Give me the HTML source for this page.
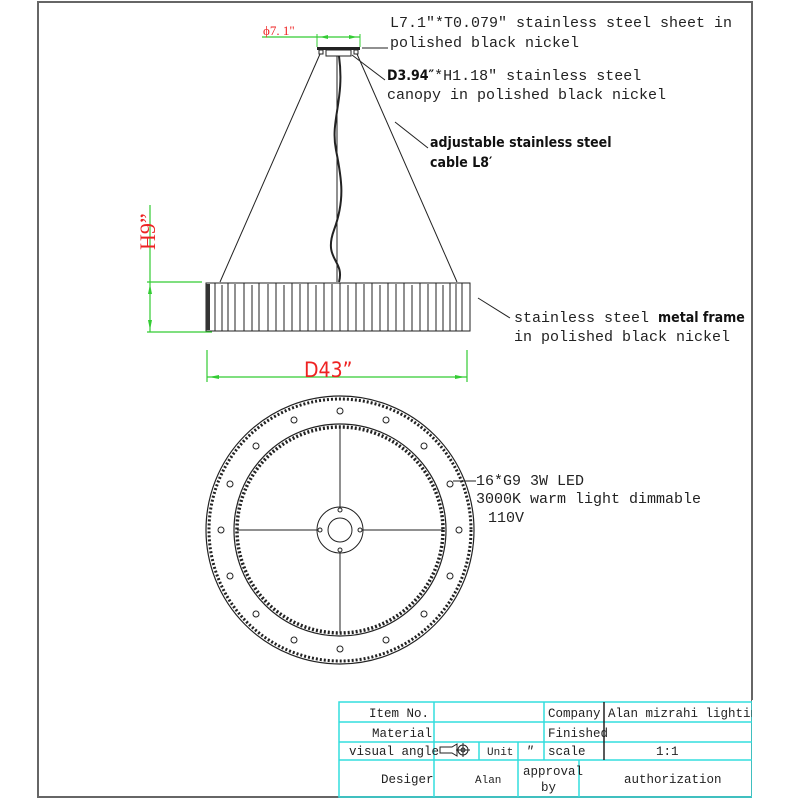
<!DOCTYPE html>
<html><head><meta charset="utf-8"><style>
body{margin:0;background:#fff}
svg{display:block}
.s{font-family:"Liberation Mono","Liberation Serif",monospace;font-size:15px;fill:#222}
.b{font-family:"DejaVu Sans Condensed","Liberation Sans",sans-serif;font-weight:bold;font-size:14px;fill:#111}
.t{font-family:"Liberation Mono",monospace;font-size:12.5px;fill:#222}
</style></head><body>
<svg width="800" height="800" viewBox="0 0 800 800" xmlns="http://www.w3.org/2000/svg">
<rect x="38" y="2" width="714" height="795" fill="none" stroke="#666" stroke-width="2"/>

<!-- canopy -->
<line x1="262" y1="37" x2="360" y2="37" stroke="#3c3" stroke-width="1.2"/>
<line x1="317" y1="34" x2="317" y2="47" stroke="#3c3"/>
<line x1="360" y1="34" x2="360" y2="47" stroke="#3c3"/>
<path d="M320 37 l8 -2 v4z M357 37 l-8 -2 v4z" fill="#3c3"/>
<text x="263" y="35" font-family="Liberation Serif,serif" font-size="13" fill="#e22">ϕ7. 1"</text>
<rect x="317" y="47" width="43" height="3" fill="#222"/>
<rect x="326" y="50" width="25" height="6" fill="none" stroke="#222"/>
<rect x="319" y="50" width="4" height="4" fill="none" stroke="#222"/>
<rect x="354" y="50" width="4" height="4" fill="none" stroke="#222"/>
<line x1="362" y1="48" x2="388" y2="48" stroke="#222"/>
<line x1="352" y1="55" x2="385" y2="80" stroke="#222"/>
<!-- cables -->
<line x1="320" y1="54" x2="220" y2="282" stroke="#222"/>
<line x1="357" y1="54" x2="457" y2="282" stroke="#222"/>
<line x1="337" y1="56" x2="337" y2="282" stroke="#222"/>
<path d="M339 56 C345 100,330 120,336 150 S345 200,334 230 S345 260,339 282" fill="none" stroke="#222" stroke-width="2"/>
<line x1="395" y1="122" x2="428" y2="148" stroke="#222"/>

<!-- ring side -->
<rect x="206" y="283" width="264" height="48" stroke="#222" fill="#fff"/>
<g stroke="#222" stroke-width="1">
<path d="M215 283v48M222 285v46M228 283v48M235 284v47M244 283v48M252 285v46M259 283v48M268 284v47M276 283v48M284 285v46M292 283v48M300 284v47M308 283v48M316 285v46M324 283v48M332 284v47M340 283v48M348 285v46M356 283v48M364 284v47M372 283v48M380 285v46M388 283v48M396 284v47M404 283v48M412 285v46M420 283v48M428 284v47M436 283v48M443 285v46M450 283v48M456 284v47M462 283v48"/>
</g>
<rect x="206" y="284" width="4" height="46" fill="#333"/>
<line x1="478" y1="298" x2="510" y2="318" stroke="#222"/>

<!-- dims -->
<g stroke="#3c3" stroke-width="1.2">
<line x1="150" y1="205" x2="150" y2="332"/>
<line x1="147" y1="282" x2="202" y2="282"/>
<line x1="147" y1="332" x2="212" y2="332"/>
<line x1="207" y1="350" x2="207" y2="382"/>
<line x1="467" y1="350" x2="467" y2="382"/>
<line x1="207" y1="377" x2="467" y2="377"/>
</g>
<path d="M150 284 l-2 10 h4z M150 330 l-2 -10 h4z M209 377 l10 -2 v4z M465 377 l-10 -2 v4z" fill="#3c3"/>
<text transform="translate(155,250) rotate(-90)" font-family="Liberation Serif,serif" font-size="22" fill="#e22">H9”</text>
<text x="304" y="377" font-family="DejaVu Sans Condensed,Liberation Sans,sans-serif" font-size="21" fill="#e22">D43”</text>

<!-- bottom view -->
<g fill="none" stroke="#222">
<circle cx="340" cy="530" r="134" stroke-width="1.2"/>
<circle cx="340" cy="530" r="131" stroke-width="3" stroke-dasharray="2 2"/>
<circle cx="340" cy="530" r="106" stroke-width="1.2"/>
<circle cx="340" cy="530" r="103" stroke-width="3.5" stroke-dasharray="2 2"/>
<circle cx="340" cy="530" r="23"/>
<circle cx="340" cy="530" r="12"/>
<line x1="340" y1="427" x2="340" y2="507"/>
<line x1="340" y1="553" x2="340" y2="633"/>
<line x1="237" y1="530" x2="317" y2="530"/>
<line x1="363" y1="530" x2="443" y2="530"/>
<circle cx="340" cy="510" r="2"/><circle cx="340" cy="550" r="2"/><circle cx="320" cy="530" r="2"/><circle cx="360" cy="530" r="2"/>
</g>
<g fill="none" stroke="#222" stroke-width="1">
<circle cx="340" cy="411" r="3"/><circle cx="386" cy="420" r="3"/><circle cx="424" cy="446" r="3"/><circle cx="450" cy="484" r="3"/>
<circle cx="459" cy="530" r="3"/><circle cx="450" cy="576" r="3"/><circle cx="424" cy="614" r="3"/><circle cx="386" cy="640" r="3"/>
<circle cx="340" cy="649" r="3"/><circle cx="294" cy="640" r="3"/><circle cx="256" cy="614" r="3"/><circle cx="230" cy="576" r="3"/>
<circle cx="221" cy="530" r="3"/><circle cx="230" cy="484" r="3"/><circle cx="256" cy="446" r="3"/><circle cx="294" cy="420" r="3"/>
</g>
<line x1="453" y1="481" x2="476" y2="481" stroke="#222"/>

<!-- labels -->
<text class="s" x="390" y="27">L7.1″*T0.079″ stainless steel sheet  in</text>
<text class="s" x="390" y="47">polished black nickel</text>
<text x="387" y="80"><tspan class="b">D3.94″</tspan><tspan class="s">*H1.18″ stainless steel</tspan></text>
<text class="s" x="387" y="99">canopy in polished black nickel</text>
<text class="b" x="430" y="147">adjustable stainless steel</text>
<text class="b" x="430" y="167">cable L8′</text>
<text x="514" y="322"><tspan class="s">stainless steel </tspan><tspan class="b">metal frame</tspan></text>
<text class="s" x="514" y="341">in polished black nickel</text>
<text class="s" x="476" y="485">16*G9 3W LED</text>
<text class="s" x="476" y="503">3000K warm light  dimmable</text>
<text class="s" x="488" y="522">110V</text>

<!-- table -->
<g stroke="#3dd" stroke-width="1.5" fill="none">
<rect x="339" y="702" width="413" height="95"/>
<line x1="339" y1="722" x2="752" y2="722"/>
<line x1="339" y1="742" x2="752" y2="742"/>
<line x1="339" y1="760" x2="752" y2="760"/>
<line x1="434" y1="702" x2="434" y2="797"/>
<line x1="544" y1="702" x2="544" y2="760"/>
<line x1="479" y1="742" x2="479" y2="760"/>
<line x1="518" y1="742" x2="518" y2="797"/>
<line x1="579" y1="760" x2="579" y2="797"/>
</g>
<line x1="604" y1="702" x2="604" y2="760" stroke="#222" stroke-width="1.5"/>
<g class="t">
<text x="369" y="717">Item No.</text>
<text x="372" y="737">Material</text>
<text x="349" y="755">visual angle</text>
<text x="487" y="755" font-size="11">Unit</text>
<text x="526" y="755" font-style="italic">″</text>
<text x="548" y="717">Company</text>
<text x="548" y="737">Finished</text>
<text x="548" y="755">scale</text>
<text x="608" y="717">Alan mizrahi lighting</text>
<text x="656" y="755">1:1</text>
<text x="381" y="783">Desiger</text>
<text x="475" y="783" font-size="11">Alan</text>
<text x="523" y="775">approval</text>
<text x="541" y="791">by</text>
<text x="624" y="783">authorization</text>
</g>
<rect x="752" y="700" width="48" height="100" fill="#fff"/>
<g stroke="#222" fill="none" stroke-width="1">
<path d="M440 747 h12 l5 -3 v12 l-5 -3 h-12z"/>
<circle cx="463" cy="750" r="5"/><circle cx="463" cy="750" r="2"/>
<line x1="456" y1="750" x2="470" y2="750"/><line x1="463" y1="743" x2="463" y2="757"/>
</g>
</svg>
</body></html>
